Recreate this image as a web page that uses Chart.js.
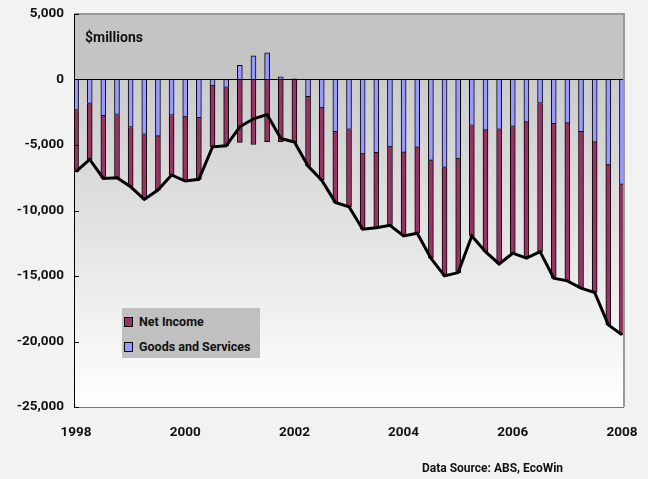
<!DOCTYPE html>
<html>
<head>
<meta charset="utf-8">
<script src="https://cdn.jsdelivr.net/npm/chart.js@4.4.1/dist/chart.umd.min.js"></script>
<style>
html,body{margin:0;padding:0;background:#f2f2f2;}
#wrap{position:relative;width:648px;height:479px;overflow:hidden;}
canvas{display:block;}
.txt{position:absolute;font-family:Roboto,'Liberation Sans',sans-serif;font-weight:bold;color:#111;white-space:nowrap;}
#units{left:85px;top:29px;font-size:14px;}
#source{left:422px;top:461px;font-size:12px;}
#legend{position:absolute;left:122px;top:308px;width:138px;height:50px;background:#c0c0c0;
  font-family:Roboto,'Liberation Sans',sans-serif;font-weight:bold;font-size:12.5px;color:#111;}
#legend .item{position:absolute;left:2px;height:16px;line-height:16px;white-space:nowrap;}
#legend .sw{display:inline-block;width:7px;height:8px;border:1px solid #000;margin-right:6px;vertical-align:-1px;}
</style>
</head>
<body>
<div id="wrap">
  <canvas id="c" width="648" height="479"></canvas>
  <div class="txt" id="units">$millions</div>
  <div class="txt" id="source">Data Source: ABS, EcoWin</div>
  <div id="legend"></div>
</div>
<script>
// Quarterly data, 1998 Q1 .. 2008 Q1 (41 quarters), $ millions
const quarters = [
  "1998 Q1","1998 Q2","1998 Q3","1998 Q4","1999 Q1","1999 Q2","1999 Q3","1999 Q4",
  "2000 Q1","2000 Q2","2000 Q3","2000 Q4","2001 Q1","2001 Q2","2001 Q3","2001 Q4",
  "2002 Q1","2002 Q2","2002 Q3","2002 Q4","2003 Q1","2003 Q2","2003 Q3","2003 Q4",
  "2004 Q1","2004 Q2","2004 Q3","2004 Q4","2005 Q1","2005 Q2","2005 Q3","2005 Q4",
  "2006 Q1","2006 Q2","2006 Q3","2006 Q4","2007 Q1","2007 Q2","2007 Q3","2007 Q4",
  "2008 Q1"
];
const goodsAndServices = [
  -2350,-1830,-2770,-2670,-3640,-4190,-4320,-2720,-2850,-2920,
  -490,-610,1090,1800,2030,200,50,-1320,-2160,-3990,
  -3810,-5690,-5590,-5140,-5560,-5180,-6170,-6710,-6070,-3510,
  -3860,-3810,-3580,-3250,-1810,-3380,-3330,-3990,-4780,-6530,
  -8000
];
const netIncome = [
  -4690,-4270,-4780,-4830,-4550,-4960,-4120,-4570,-4900,-4700,
  -4650,-4450,-4800,-4960,-4750,-4750,-4830,-5290,-5520,-5390,
  -5900,-5740,-5720,-5990,-6380,-6560,-7470,-8280,-8670,-8430,
  -9280,-10270,-9680,-10390,-11330,-11790,-12040,-11940,-11480,-12200,
  -11490
];
const currentAccount = [
  -7040,-6100,-7550,-7500,-8190,-9150,-8440,-7290,-7750,-7620,
  -5140,-5060,-3610,-3000,-2670,-4500,-4780,-6610,-7680,-9380,
  -9710,-11430,-11310,-11130,-11940,-11740,-13640,-14990,-14740,-11940,
  -13140,-14080,-13260,-13640,-13140,-15170,-15370,-15930,-16260,-18730,
  -19490
];
const xTickLabels = ["1998","2000","2002","2004","2006","2008"];
const xTickIndex  = [0, 8, 16, 24, 32, 40];
const yTicks = [5000, 0, -5000, -10000, -15000, -20000, -25000];

const FONT = "Roboto,'Liberation Sans',sans-serif";
Chart.defaults.font.family = FONT;
Chart.defaults.font.weight = 'bold';
Chart.defaults.color = '#111';

const pts = arr => arr.map((v, i) => ({x: i, y: v}));
const noPad = s => { s.paddingTop = 0; s.paddingBottom = 0; s.paddingLeft = 0; s.paddingRight = 0; };

const bgPlugin = {
  id: 'bg',
  beforeDraw(chart) {
    const {ctx, chartArea: a, scales: {y}} = chart;
    ctx.save();
    ctx.fillStyle = '#f2f2f2';
    ctx.fillRect(0, 0, chart.width, chart.height);
    const z = y.getPixelForValue(0);
    ctx.fillStyle = '#c4c4c4';
    ctx.fillRect(a.left, a.top, a.right - a.left, z - a.top);
    const g = ctx.createLinearGradient(0, z, 0, a.bottom);
    g.addColorStop(0, '#cbcbcb');
    g.addColorStop(1, '#ffffff');
    ctx.fillStyle = g;
    ctx.fillRect(a.left, z, a.right - a.left, a.bottom - z);
    ctx.restore();
  },
  afterDraw(chart) {
    const {ctx, chartArea: a, scales: {y}} = chart;
    ctx.save();
    ctx.strokeStyle = '#999';
    ctx.lineWidth = 2;
    ctx.beginPath();
    ctx.moveTo(a.left, a.top); ctx.lineTo(a.right, a.top); ctx.lineTo(a.right, a.bottom);
    ctx.stroke();
    ctx.strokeStyle = '#777';
    ctx.lineWidth = 1;
    ctx.beginPath();
    ctx.moveTo(a.left, a.bottom + 0.5); ctx.lineTo(a.right, a.bottom + 0.5);
    ctx.stroke();
    ctx.strokeStyle = '#000';
    ctx.beginPath();
    ctx.moveTo(a.left + 0.5, a.top); ctx.lineTo(a.left + 0.5, a.bottom + 1);
    yTicks.forEach(v => {
      const py = Math.round(y.getPixelForValue(v)) + 0.5;
      ctx.moveTo(a.left, py); ctx.lineTo(a.left + 5, py);
    });
    ctx.stroke();
    ctx.restore();
  }
};

const chart = new Chart(document.getElementById('c'), {
  type: 'bar',
  data: {
    datasets: [
      {
        label: 'Goods and Services',
        data: pts(goodsAndServices),
        backgroundColor: '#9999ff',
        borderColor: '#000',
        borderWidth: 1,
        barThickness: 5,
        stack: 'bars',
        order: 1
      },
      {
        label: 'Net Income',
        data: pts(netIncome),
        backgroundColor: '#993366',
        borderColor: '#000',
        borderWidth: 1,
        barThickness: 5,
        stack: 'bars',
        order: 1
      },
      {
        type: 'line',
        label: 'Current Account',
        data: pts(currentAccount),
        borderColor: '#000',
        borderWidth: 3,
        pointRadius: 0,
        tension: 0,
        fill: false,
        stack: 'line',
        order: 0
      }
    ]
  },
  options: {
    responsive: false,
    animation: false,
    devicePixelRatio: 1,
    layout: {padding: {left: 0, top: 14, right: 24, bottom: 0}},
    plugins: {legend: {display: false}, tooltip: {enabled: false}},
    scales: {
      x: {
        type: 'linear',
        stacked: true,
        offset: false,
        min: -0.15,
        max: 40.15,
        afterBuildTicks(s) { s.ticks = xTickIndex.map(v => ({value: v})); },
        afterFit(s) { s.height = 72; noPad(s); },
        grid: {display: false, drawTicks: false},
        border: {display: false},
        ticks: {
          autoSkip: false,
          maxRotation: 0,
          padding: 18,
          font: {size: 13.5, weight: 'bold'},
          color: '#111',
          callback: (v) => xTickLabels[xTickIndex.indexOf(v)] ?? ''
        }
      },
      y: {
        stacked: true,
        min: -25000,
        max: 5000,
        afterBuildTicks(s) { s.ticks = yTicks.map(v => ({value: v})); },
        afterFit(s) { s.width = 74; noPad(s); },
        grid: {
          drawTicks: false,
          color: c => (c.tick && c.tick.value === 0) ? '#000' : 'rgba(0,0,0,0)',
          lineWidth: 1
        },
        border: {display: false},
        ticks: {
          padding: 10,
          font: {size: 13.5, weight: 'bold'},
          color: '#111',
          callback: v => Number(v).toLocaleString('en-US')
        }
      }
    }
  },
  plugins: [bgPlugin]
});

// Legend inside the plot (Net Income first, as in the reference)
const legend = document.getElementById('legend');
[1, 0].forEach((di, row) => {
  const ds = chart.data.datasets[di];
  const item = document.createElement('div');
  item.className = 'item';
  item.style.top = (6 + row * 25) + 'px';
  const sw = document.createElement('span');
  sw.className = 'sw';
  sw.style.background = ds.backgroundColor;
  item.appendChild(sw);
  item.appendChild(document.createTextNode(ds.label));
  legend.appendChild(item);
});
</script>
</body>
</html>
